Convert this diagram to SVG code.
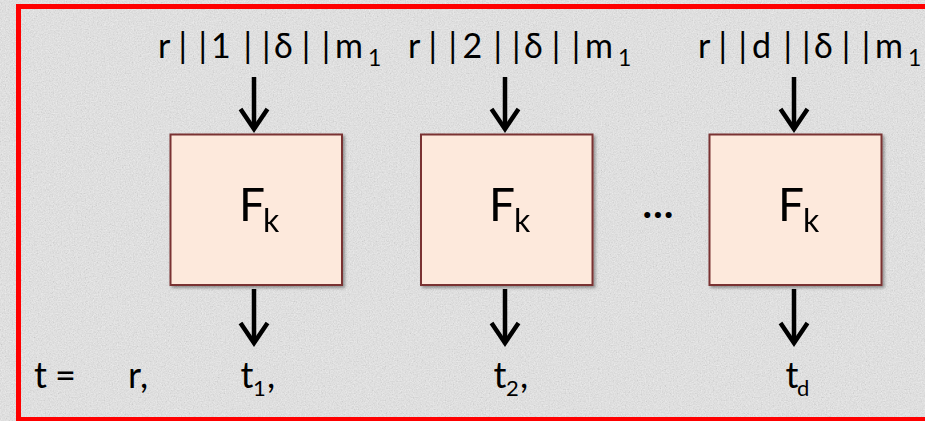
<svg xmlns="http://www.w3.org/2000/svg" width="925" height="421" viewBox="0 0 925 421">
  <defs>
    <!-- grainy paper texture for the page -->
    <filter id="paper" x="0" y="0" width="100%" height="100%" filterUnits="userSpaceOnUse">
      <feTurbulence type="fractalNoise" baseFrequency="0.75" numOctaves="3" seed="7" result="n"/>
      <feColorMatrix in="n" type="matrix" values="0.4 0.4 0.4 0 0  0.4 0.4 0.4 0 0  0.4 0.4 0.4 0 0  0 0 0 0 0.35"/>
    </filter>
    <filter id="shadow" x="-10%" y="-10%" width="125%" height="125%">
      <feDropShadow dx="2" dy="2" stdDeviation="1.6" flood-color="#000" flood-opacity="0.35"/>
    </filter>
    <marker id="vhead" viewBox="-28 -18 34 36" refX="0" refY="0" markerWidth="34" markerHeight="36" markerUnits="userSpaceOnUse" orient="auto">
      <path d="M-20,-13.5 L0,0 L-20,13.5" fill="none" stroke="#000" stroke-width="4.5" stroke-linejoin="miter" stroke-miterlimit="10"/>
    </marker>
    <style>
      .box { fill: #fde9dc; stroke: #7a3233; stroke-width: 2; }
      .txt { font-family: Lato, "Liberation Sans", sans-serif; fill: #000; }
      .lbl { font-size: 34px; }
      .sub { font-size: 23px; }
      .out { font-size: 36px; }
      .osub { font-size: 22px; }
      .fk { font-size: 46px; }
      .fks { font-size: 32px; }
      .arrow { stroke: #000; stroke-width: 4.5; fill: none; marker-end: url(#vhead); }
    </style>
  </defs>

  <!-- page background -->
  <rect x="0" y="0" width="925" height="421" fill="#e9e9e9"/>
  <rect x="0" y="0" width="925" height="421" fill="#fff" filter="url(#paper)"/>

  <!-- red frame -->
  <rect x="18.5" y="6.5" width="920" height="413" fill="none" stroke="#ff0000" stroke-width="5"/>

  <!-- input labels -->
  <g id="in1">
    <text class="txt lbl" y="58"><tspan x="158 178.5 198.5 211 243.5 262 274 301.8 321.8 335">r||1||δ||m</tspan><tspan class="sub" x="368" dy="8">1</tspan></text>
  </g>
  <g id="in2">
    <text class="txt lbl" y="58"><tspan x="408 428.5 448.5 462.5 493.5 512 524 551.8 571.8 585">r||2||δ||m</tspan><tspan class="sub" x="618" dy="8">1</tspan></text>
  </g>
  <g id="ind">
    <text class="txt lbl" y="58"><tspan x="698 718.5 738.5 752 783.5 802 814 841.8 861.8 875">r||d||δ||m</tspan><tspan class="sub" x="908" dy="8">1</tspan></text>
  </g>

  <!-- connectors -->
  <g id="connectors">
    <line class="arrow" x1="254" y1="77" x2="254" y2="129"/>
    <line class="arrow" x1="505" y1="77" x2="505" y2="129"/>
    <line class="arrow" x1="794" y1="77" x2="794" y2="129"/>
    <line class="arrow" x1="254" y1="289" x2="254" y2="343"/>
    <line class="arrow" x1="505" y1="289" x2="505" y2="343"/>
    <line class="arrow" x1="794" y1="289" x2="794" y2="343"/>
  </g>

  <!-- PRF blocks -->
  <g id="f1" filter="url(#shadow)">
    <rect class="box" x="170.5" y="134.5" width="171.5" height="150.5"/>
    <text class="txt fk" y="221"><tspan x="239">F</tspan><tspan class="fks" x="263" dy="11">k</tspan></text>
  </g>
  <g id="f2" filter="url(#shadow)">
    <rect class="box" x="421" y="134.5" width="171.5" height="150.5"/>
    <text class="txt fk" y="221"><tspan x="489">F</tspan><tspan class="fks" x="514" dy="11">k</tspan></text>
  </g>
  <g id="fd" filter="url(#shadow)">
    <rect class="box" x="709.5" y="134.5" width="172" height="150.5"/>
    <text class="txt fk" y="221"><tspan x="778">F</tspan><tspan class="fks" x="803" dy="11">k</tspan></text>
  </g>

  <g id="dots">
    <text class="txt" x="658" y="218" font-size="40" font-weight="bold" text-anchor="middle">…</text>
  </g>

  <!-- output tag -->
  <g id="out">
    <text class="txt out" y="388" x="34 55">t=</text>
    <text class="txt out" y="388" x="128 140">r,</text>
    <text class="txt out" y="388"><tspan x="240.5">t</tspan><tspan class="osub" x="253" dy="8">1</tspan><tspan x="267" dy="-8">,</tspan></text>
    <text class="txt out" y="388"><tspan x="493.5">t</tspan><tspan class="osub" x="506" dy="8">2</tspan><tspan x="520" dy="-8">,</tspan></text>
    <text class="txt out" y="388"><tspan x="785.5">t</tspan><tspan class="osub" x="797" dy="8">d</tspan></text>
  </g>
</svg>
